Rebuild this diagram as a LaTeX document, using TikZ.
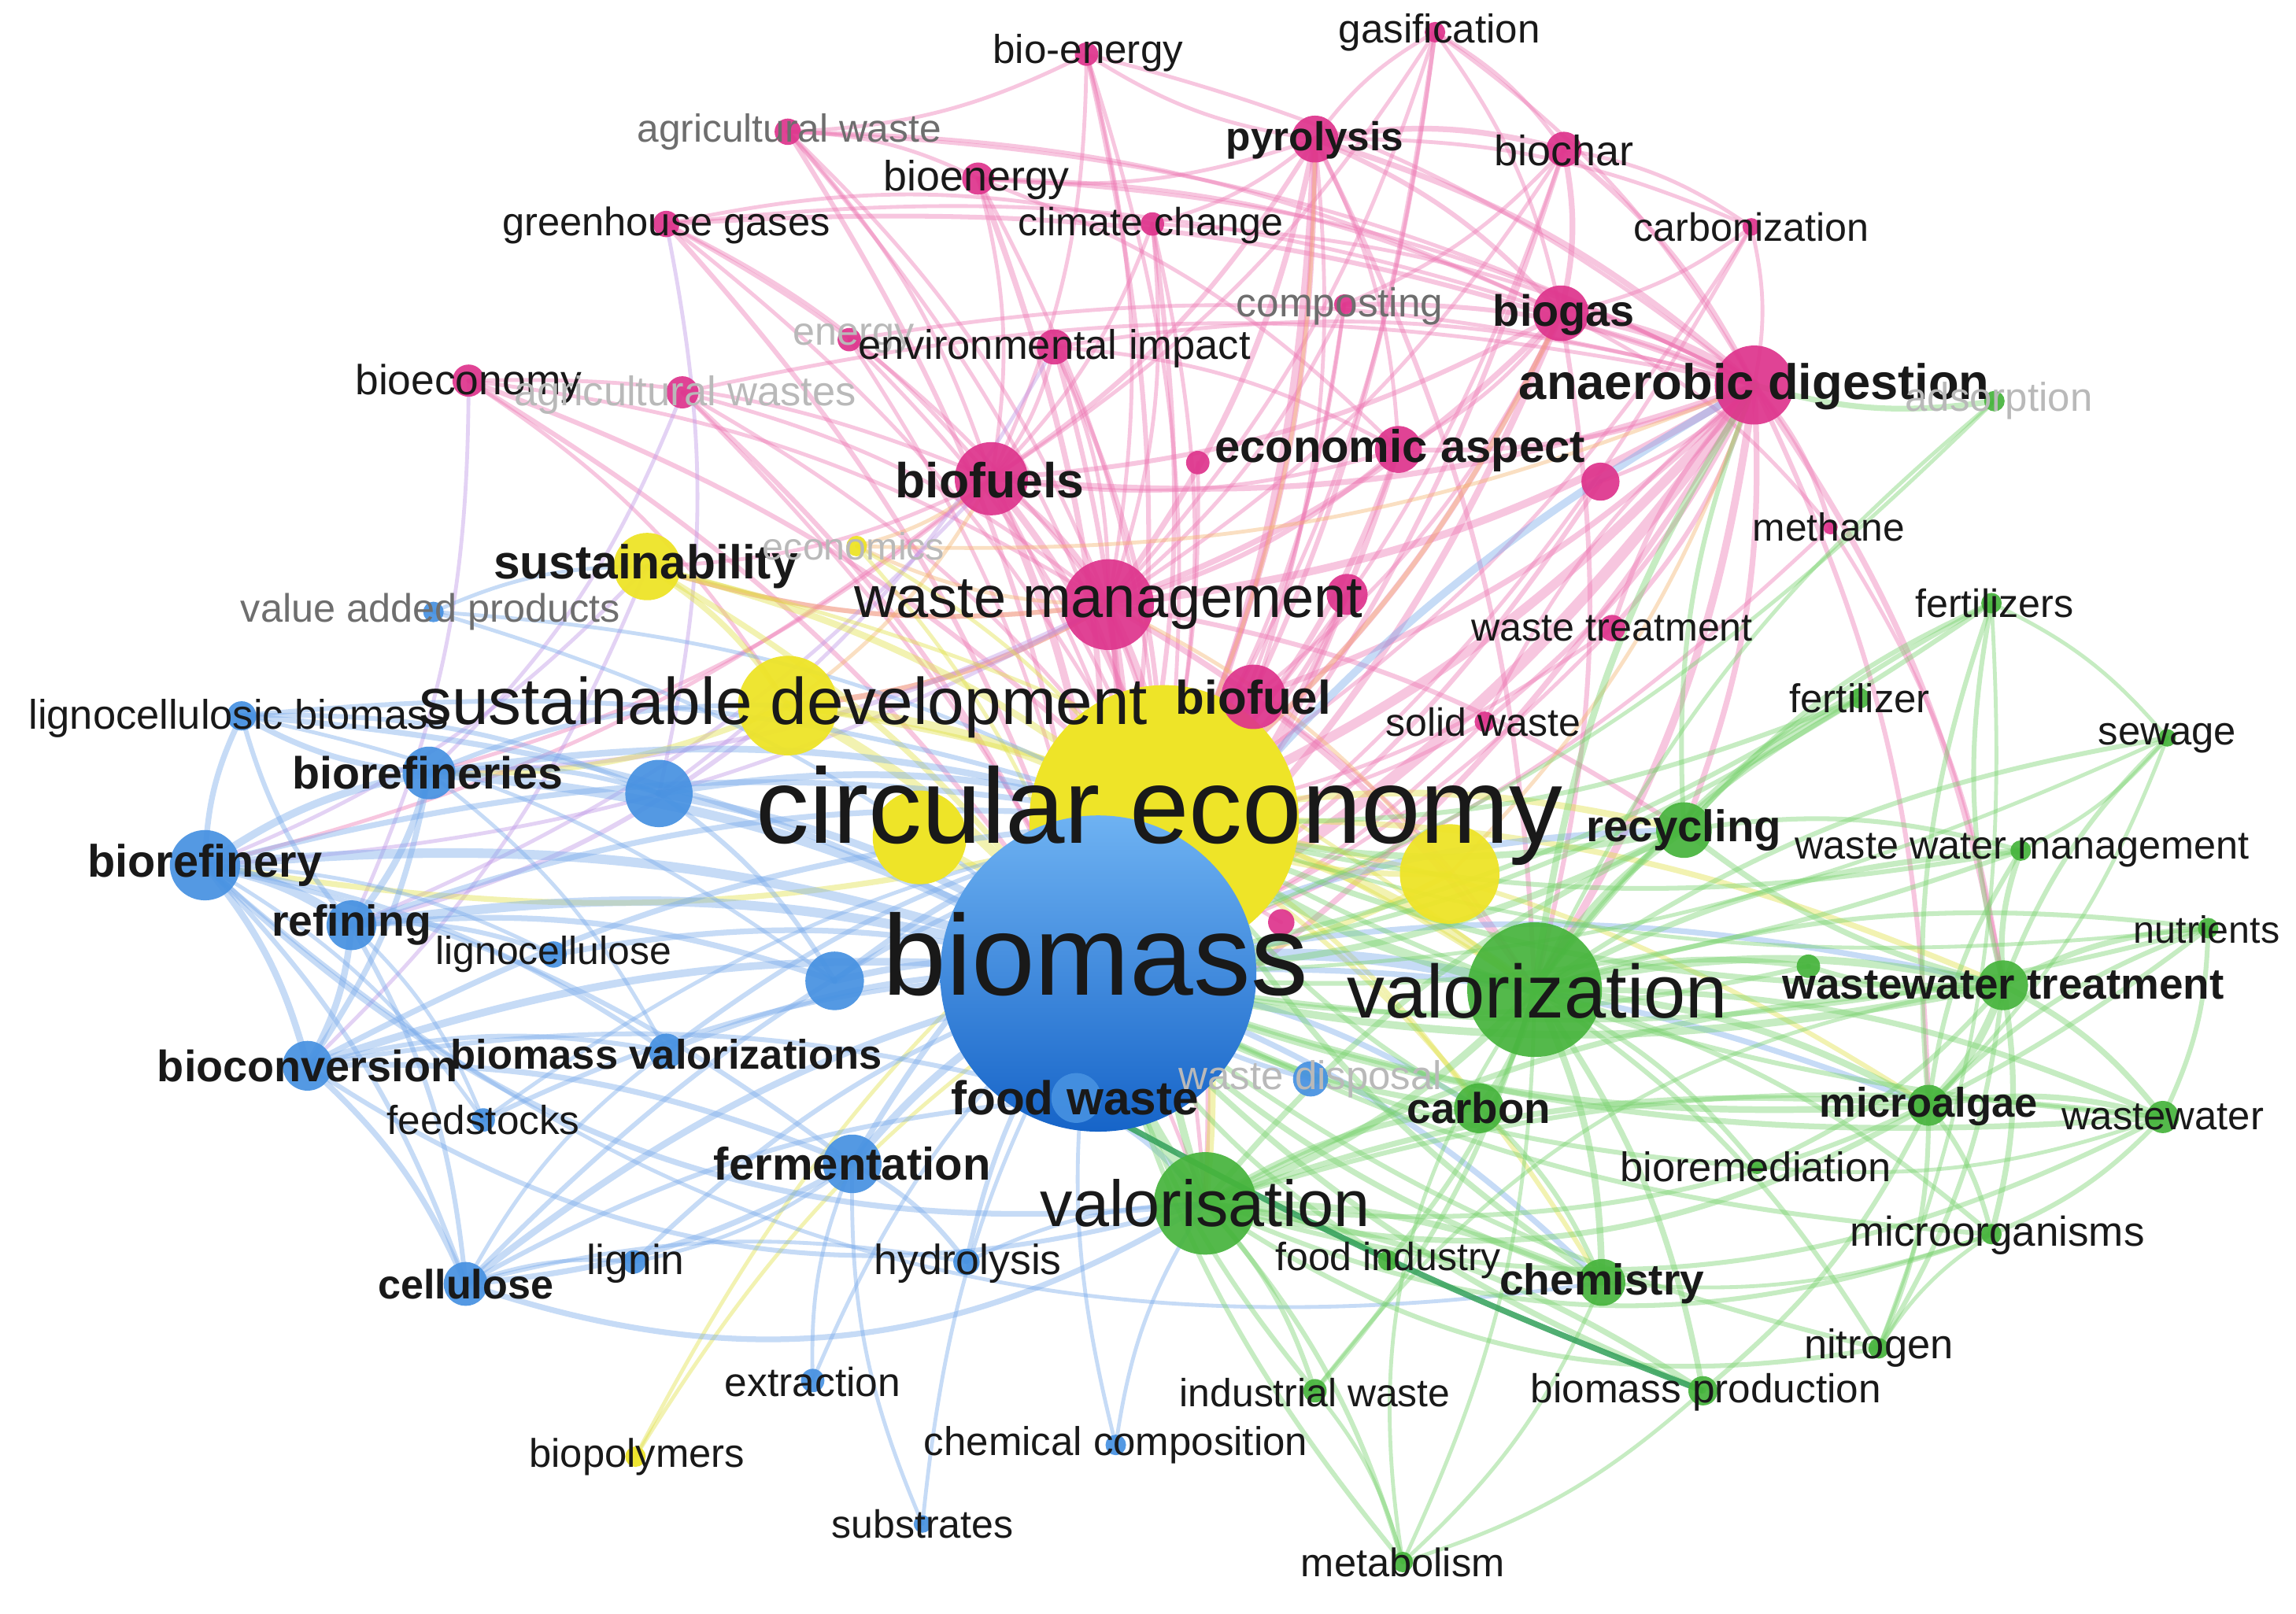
\documentclass[tikz,border=0pt]{standalone}
\usepackage{fontspec}
\setmainfont{Liberation Sans}
\definecolor{pkN}{RGB}{222,52,140}
\definecolor{blN}{RGB}{70,145,225}
\definecolor{grN}{RGB}{70,180,60}
\definecolor{yeN}{RGB}{238,228,40}
\definecolor{pkE}{RGB}{238,120,180}
\definecolor{blE}{RGB}{120,170,235}
\definecolor{grE}{RGB}{120,210,110}
\definecolor{yeE}{RGB}{225,225,70}
\definecolor{lvE}{RGB}{190,150,230}
\definecolor{orE}{RGB}{245,180,110}
\definecolor{txtc}{RGB}{25,25,25}
\definecolor{grayt}{RGB}{110,110,110}
\definecolor{faintt}{RGB}{185,185,185}
\definecolor{bmTop}{RGB}{110,178,242}
\definecolor{bmBot}{RGB}{22,100,200}
\tikzset{
  lab/.style={font=\fontsize{#1}{#1}\selectfont, text=txtc, inner sep=0pt},
  labb/.style={font=\fontsize{#1}{#1}\selectfont\bfseries, text=txtc, inner sep=0pt},
  gr/.style={text=grayt},
  fa/.style={text=faintt},
  dot/.style={circle, inner sep=0pt, minimum size=#1},
  edg/.style={line width=1.3*#1, opacity=.42, line cap=round}
}
\begin{document}
\begin{tikzpicture}[x=1pt,y=-1pt]
\useasboundingbox (0,0) rectangle (1568,1102);
\fill[white] (0,0) rectangle (1568,1102);
% ---------- coordinates of all nodes ----------
\foreach \n/\x/\y in {
 bioen/742/37, gasif/980/22, agw/538/90, pyro/898/95, biochar/1068/102, bioenergy/668/122,
 ghg/455/153, clim/787/153, carbz/1196/155, compost/918/208, biogas/1066/214, energy/580/232,
 envi/720/237, bioeco/320/260, agws/466/268, ad/1198/263, econ/955/307, pk1/818/316,
 pk2/1093/329, bfs/677/327, meth/1250/360, wm/757/413, pk3/920/406, wt/1101/429,
 bf/856/476, sw/1014/493, pk4/875/630,
 sust/442/387, econs/585/373, sd/538/482, ce/795/560, y1/990/597, y2/628/572, biopol/434/995,
 bm/750/665, vap/296/418, lcb/165/489, brs/293/528, b1/450/542, bry/140/591, ref/240/632,
 lc/378/652, b2/570/670, bconv/210/728, bmv/455/718, feed/330/765, fw/735/750, wd/895/737,
 ferm/582/795, cell/318/877, lignin/433/862, hydro/660/862, extr/555/943, chem/762/987,
 subs/630/1041,
 ads/1362/274, fzs/1360/412, fz/1270/477, sew/1480/504, recy/1150/567, wwm/1380/581,
 nutr/1508/634, vzn/1048/676, wwt/1368/673, g1/1235/660, carbon/1010/757, malg/1317/755,
 ww/1477/763, bioremed/1200/797, vsn/823/822, morg/1360/843, findu/948/861, chemy/1094/876,
 nitro/1283/921, indw/898/950, bmp/1163/950, metab/958/1067}
 \coordinate (\n) at (\x,\y);
% ---------- edges ----------
% pink
\foreach \a/\b/\w in {
 pyro/bioenergy/2, pyro/biochar/3, pyro/gasif/2, pyro/bm/4, pyro/ce/3, pyro/ad/3, pyro/bfs/2.5,
 pyro/wm/3, pyro/bf/2, pyro/carbz/2, pyro/clim/2, pyro/biogas/2.5, pyro/vzn/2.5, pyro/econ/2, pyro/bioen/2,
 gasif/bm/2.5, gasif/biogas/2, gasif/ad/2, gasif/bfs/2, gasif/wm/2, gasif/ce/2, gasif/biochar/2,
 bioen/bm/2.5, bioen/ce/2, bioen/agw/2, bioen/wm/2, bioen/bfs/2, bioen/ad/2,
 agw/bm/2.5, agw/wm/2, agw/ad/2, agw/biogas/2, agw/bioenergy/2, agw/ce/2, agw/bfs/2,
 biochar/biogas/3, biochar/ad/2.5, biochar/bm/2.5, biochar/ce/2, biochar/carbz/2, biochar/compost/2, biochar/wm/2,
 bioenergy/bm/3, bioenergy/ad/2, bioenergy/biogas/2, bioenergy/ce/2, bioenergy/bfs/2, bioenergy/econ/2,
 ghg/wm/2, ghg/ad/2.5, ghg/bm/2.5, ghg/ce/2, ghg/clim/2, ghg/biogas/2, ghg/bfs/2,
 clim/bm/2.5, clim/ad/2, clim/ce/2, clim/bfs/2, clim/wm/2,
 carbz/bm/2, carbz/ad/2, carbz/ce/2, carbz/biogas/2,
 compost/ad/2.5, compost/wm/2, compost/ce/2, compost/bm/2,
 biogas/ad/5, biogas/bm/3.5, biogas/ce/3, biogas/wm/3, biogas/bfs/2.5, biogas/meth/2, biogas/vzn/2.5, biogas/bf/2, biogas/econ/2,
 energy/bm/2, energy/ce/2, energy/ad/2,
 envi/ce/2.5, envi/bm/2.5, envi/ad/2, envi/wm/2, envi/econ/2, envi/bfs/2,
 bioeco/ce/2.5, bioeco/bm/2.5, bioeco/wm/2, bioeco/sd/2, bioeco/bfs/2,
 agws/bm/2.5, agws/ad/2, agws/ce/2, agws/vsn/2, agws/wm/2,
 ad/bm/6, ad/ce/5, ad/wm/4, ad/meth/2.5, ad/wwt/3, ad/vzn/4, ad/bf/3, ad/fw/3, ad/recy/3,
 ad/wt/2.5, ad/sw/2.5, ad/malg/2.5, ad/bfs/3, ad/econ/2.5, ad/pk2/2,
 econ/bm/3, econ/ce/3, econ/wm/2.5, econ/bfs/2,
 bfs/bm/4, bfs/ce/3.5, bfs/wm/3, bfs/sust/2, bfs/brs/2, bfs/vsn/2, bfs/bry/2,
 wm/bm/5, wm/ce/4, wm/sd/3, wm/recy/2.5, wm/vzn/3, wm/fw/3, wm/vsn/2.5, wm/sust/2.5,
 wt/ad/2.5, wt/ce/2, wt/bm/2, bf/bm/3, bf/ce/3, bf/vzn/2,
 sw/ad/2, sw/ce/2, sw/bm/2, meth/bm/2, meth/wwt/2,
 pk1/bm/2, pk2/bm/2.5, pk3/bm/3, pk3/ce/2.5, pk4/ce/2}
 \draw[pkE, edg=\w] (\a) to[bend left=12] (\b);
% orange / lavender mixes
\foreach \a/\b/\w in {econs/wm/2, econs/bfs/2, econs/ad/2, sust/wm/2.5, sd/wm/3, sd/bfs/2, y1/ad/2, y1/wm/2, ce/biogas/2.5, ce/pyro/2}
 \draw[orE, edg=\w] (\a) to[bend right=12] (\b);
\foreach \a/\b/\w in {sust/bconv/2, sust/bry/2, sd/ref/2.5, bfs/ref/2, wm/bry/2, wm/brs/2.5, bioeco/ref/2, agws/brs/2, envi/b1/2, ghg/b1/2}
 \draw[lvE, edg=\w] (\a) to[bend left=12] (\b);
% yellow
\foreach \a/\b/\w in {
 sust/ce/3.5, sust/bm/3, sust/sd/3, sd/ce/5, sd/bm/5, sd/brs/3, econs/ce/2, econs/bm/2,
 ce/vzn/5, ce/recy/3.5, ce/fw/3, ce/vsn/4, biopol/bm/2, biopol/ce/2, y1/bm/3, y1/ce/3,
 y2/bm/3, ce/wwt/3, ce/bry/3, ce/chemy/2.5, ce/carbon/2.5, ce/malg/2.5, sd/vzn/2.5, sust/vzn/2}
 \draw[yeE, edg=\w] (\a) to[bend left=12] (\b);
% blue
\foreach \a/\b/\w in {
 bry/bm/5, bry/brs/4, bry/ref/5, bry/bconv/3.5, bry/lcb/3, bry/cell/2.5, bry/feed/2, bry/ce/3,
 bry/ferm/2.5, bry/lc/2, brs/bm/5, brs/ref/3.5, brs/ce/3.5, brs/bconv/3, brs/lcb/3, brs/sd/2.5,
 brs/b1/2.5, ref/bm/5, ref/bconv/3.5, ref/lc/2.5, ref/cell/2.5, ref/lcb/2.5, ref/ce/3, ref/feed/2,
 lcb/bm/3, lcb/ce/2.5, vap/bm/2, vap/ce/2, vap/sust/2, bconv/bm/4, bconv/bmv/2.5, bconv/ferm/3,
 bconv/cell/3, bconv/ce/3, bmv/bm/3, bmv/ce/2.5, ferm/bm/4, ferm/ce/3, ferm/hydro/2.5,
 ferm/cell/3, ferm/lignin/2, cell/bm/3.5, cell/lignin/2, cell/hydro/2, cell/ce/2.5,
 lignin/bm/2.5, hydro/bm/2.5, extr/bm/2, extr/ferm/2, chem/bm/2, chem/vsn/2, subs/bm/2,
 subs/ferm/2, feed/bm/2.5, feed/ce/2, lc/bm/3, b1/bm/4, b1/ce/3.5, b2/bm/3.5, b2/ce/3,
 fw/bm/4, fw/vsn/3, bm/vzn/6, bm/wwt/3, bm/ad/4, wd/bm/2.5, bm/recy/3.5, bm/malg/3,
 bm/carbon/3, bm/chemy/3, hydro/vsn/2, cell/fw/2.5, lcb/b2/2, bconv/fw/2.5, brs/bmv/2,
 cell/bmv/2, b1/b2/2.5, lcb/b1/2.5, bry/bmv/2.5, ref/b2/3}
 \draw[blE, edg=\w] (\a) to[bend left=12] (\b);
\foreach \a/\b/\w in {bry/vsn/3, cell/vsn/3, bconv/vsn/2.5, bry/chemy/2}
 \draw[blE, edg=\w] (\a) to[bend right=25] (\b);
% green
\foreach \a/\b/\w in {
 vzn/recy/4, vzn/wwt/4, vzn/malg/3.5, vzn/carbon/3.5, vzn/chemy/3.5, vzn/bioremed/2.5,
 vzn/morg/2.5, vzn/nitro/2.5, vzn/fz/2.5, vzn/fzs/2.5, vzn/wwm/3, vzn/nutr/2.5, vzn/ww/3,
 vzn/sew/2.5, vzn/ads/2, vzn/ad/3.5, vzn/vsn/4, vzn/findu/2.5, vzn/indw/2.5, vzn/bmp/3,
 vzn/metab/2, vzn/g1/3, vzn/ce/5,
 vsn/bm/6, vsn/ce/4, vsn/chemy/3.5, vsn/carbon/3, vsn/indw/2.5, vsn/metab/2.5, vsn/findu/2.5,
 vsn/bmp/3, vsn/malg/3, vsn/wwt/3, vsn/recy/3, vsn/ww/2.5,
 wwt/malg/4, wwt/ww/3, wwt/nutr/3, wwt/sew/2.5, wwt/wwm/3, wwt/fzs/2.5, wwt/nitro/2.5,
 wwt/morg/3, wwt/bioremed/2.5, wwt/recy/3, wwt/bm/4, wwt/ce/3, wwt/g1/2.5,
 malg/ww/3, malg/nutr/2.5, malg/nitro/2.5, malg/bmp/2.5, malg/bm/3.5, malg/morg/2.5,
 malg/fzs/2.5, malg/wwm/2.5, recy/ce/3.5, recy/bm/3.5, recy/fz/2.5, recy/fzs/2.5,
 recy/wwm/2.5, recy/ad/2.5, carbon/bm/3, carbon/ce/2.5, carbon/chemy/2.5,
 chemy/bm/3, chemy/ce/3, chemy/metab/2, bioremed/bm/2.5, morg/bm/2.5, nitro/bm/2.5,
 fz/bm/2.5, fzs/bm/2.5, wwm/bm/2.5, nutr/bm/2.5, ww/bm/3, sew/bm/2, ads/ad/3, ads/bm/2,
 findu/bm/2.5, indw/bm/2.5, bmp/bm/3, metab/bm/2.5, g1/bm/2.5, ww/ce/2.5, wwm/ce/2.5,
 nutr/ce/2, fz/ce/2.5, sew/wwm/2, sew/malg/2, nutr/ww/2.5, bmp/metab/2, indw/metab/2,
 nitro/morg/2, fzs/nitro/2, fzs/sew/2, ww/morg/2.5, ww/bioremed/2, morg/chemy/2}
 \draw[grE, edg=\w] (\a) to[bend left=12] (\b);
\foreach \a/\b/\w in {malg/vsn/3, ww/vsn/2.5, morg/vsn/2.5, nitro/vsn/2.5, nutr/vsn/2.5, metab/vzn/2, indw/wwt/2}
 \draw[grE, edg=\w] (\a) to[bend left=22] (\b);
\draw[draw={rgb,255:red,50;green,160;blue,90}, line width=4, opacity=.85] (fw) to[bend right=4] (bmp);
% ---------- node circles ----------
\fill[yeN] (ce) circle (92);
\fill[yeN] (y2) circle (32);
\shade[top color=bmTop, bottom color=bmBot] (bm) circle (108);
\foreach \n/\r in {bioen/8, gasif/7, agw/9, pyro/16, biochar/12, bioenergy/11, ghg/9, clim/8,
 carbz/6, compost/7, biogas/19, energy/8, envi/12, bioeco/11, agws/11, ad/27, econ/16, pk1/8,
 pk2/13, bfs/25, meth/5, wm/31, pk3/14, wt/9, bf/22, sw/7, pk4/9}
 \node[dot=2*\r, fill=pkN, opacity=.92] at (\n) {};
\foreach \n/\r in {sust/23, econs/7, sd/34, y1/34, biopol/7}
 \node[dot=2*\r, fill=yeN, opacity=.95] at (\n) {};
\foreach \n/\r in {vap/7, lcb/10, brs/18, b1/23, bry/24, ref/17, lc/9, b2/20, bconv/17, bmv/12,
 feed/8, fw/17, wd/12, ferm/20, cell/15, lignin/8, hydro/9, extr/8, chem/7, subs/6}
 \node[dot=2*\r, fill=blN, opacity=.92] at (\n) {};
\foreach \n/\r in {ads/7, fzs/7, fz/7, sew/6, recy/19, wwm/7, nutr/7, vzn/46, wwt/17, g1/8,
 carbon/17, malg/14, ww/11, bioremed/5, vsn/35, morg/7, findu/7, chemy/16, nitro/7, indw/8,
 bmp/10, metab/7}
 \node[dot=2*\r, fill=grN, opacity=.92] at (\n) {};
% ---------- labels ----------
\node[lab=27.5] at (743,36) {bio-energy};
\node[lab=27.5] at (983,22) {gasification};
\node[lab=26.7, gr] at (539,90) {agricultural waste};
\node[labb=27.6] at (898,96) {pyrolysis};
\node[lab=29] at (1068,103) {biochar};
\node[lab=28.9] at (667,123) {bioenergy};
\node[lab=27.2] at (455,154) {greenhouse gases};
\node[lab=26.9] at (786,154) {climate change};
\node[lab=27] at (1196,155) {carbonization};
\node[lab=27.6, gr] at (915,209) {composting};
\node[labb=30] at (1068,215) {biogas};
\node[lab=27, fa] at (583,231) {energy};
\node[lab=28.2] at (720,238) {environmental impact};
\node[lab=28.7] at (320,262) {bioeconomy};
\node[lab=28.2, fa] at (468,270) {agricultural wastes};
\node[labb=34] at (1198,264) {anaerobic digestion};
\node[labb=31.2] at (956,308) {economic aspect};
\node[labb=33.6] at (676,328) {biofuels};
\node[lab=26.7] at (1249,360) {methane};
\node[lab=39.8] at (757,413) {waste management};
\node[lab=27] at (1101,429) {waste treatment};
\node[labb=32.3] at (856,476) {biofuel};
\node[lab=26.9] at (1013,493) {solid waste};
\node[labb=32.5] at (441,387) {sustainability};
\node[lab=26, fa] at (583,373) {economics};
\node[lab=45] at (535,483) {sustainable development};
\node[lab=72.9] at (792,557) {circular economy};
\node[lab=27.3] at (435,995) {biopolymers};
\node[lab=78] at (748,652) {biomass};
\node[lab=27.1, gr] at (294,418) {value added products};
\node[lab=28.2] at (163,491) {lignocellulosic biomass};
\node[labb=30.8] at (292,528) {biorefineries};
\node[labb=31] at (140,591) {biorefinery};
\node[labb=29.7] at (240,632) {refining};
\node[lab=26.8] at (378,652) {lignocellulose};
\node[labb=30] at (210,728) {bioconversion};
\node[labb=28.2] at (455,720) {biomass valorizations};
\node[lab=27.6] at (330,765) {feedstocks};
\node[labb=32.4] at (734,750) {food waste};
\node[lab=27.4, fa] at (895,737) {waste disposal};
\node[labb=31.2] at (582,795) {fermentation};
\node[labb=28] at (318,877) {cellulose};
\node[lab=28.7] at (434,863) {lignin};
\node[lab=28.8] at (661,863) {hydrolysis};
\node[lab=27.7] at (555,944) {extraction};
\node[lab=27.4] at (762,987) {chemical composition};
\node[lab=26.9] at (630,1041) {substrates};
\node[lab=27.4, fa] at (1365,274) {adsorption};
\node[lab=27] at (1362,412) {fertilizers};
\node[lab=27.4] at (1270,477) {fertilizer};
\node[lab=27.3] at (1480,504) {sewage};
\node[labb=30.3] at (1150,567) {recycling};
\node[lab=27.1] at (1381,581) {waste water management};
\node[lab=26] at (1507,635) {nutrients};
\node[lab=51.4] at (1050,677) {valorization};
\node[labb=29.5] at (1368,673) {wastewater treatment};
\node[labb=29.4] at (1010,757) {carbon};
\node[labb=28.2] at (1317,756) {microalgae};
\node[lab=27.3] at (1477,763) {wastewater};
\node[lab=28.2] at (1199,797) {bioremediation};
\node[lab=44.5] at (823,822) {valorisation};
\node[lab=28.5] at (1364,844) {microorganisms};
\node[lab=26.9] at (948,861) {food industry};
\node[labb=29.6] at (1094,877) {chemistry};
\node[lab=28.2] at (1283,921) {nitrogen};
\node[lab=26.8] at (898,951) {industrial waste};
\node[lab=27.6] at (1165,951) {biomass production};
\node[lab=27.2] at (958,1067) {metabolism};
\end{tikzpicture}
\end{document}
